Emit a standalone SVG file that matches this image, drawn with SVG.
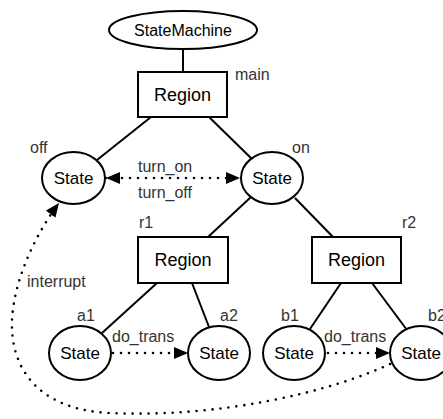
<svg xmlns="http://www.w3.org/2000/svg" width="443" height="419" viewBox="0 0 443 419">
<style>
.node{fill:#fff;stroke:#000;stroke-width:2}
.nt{font-family:"Liberation Sans",Arial,sans-serif;fill:#000;text-anchor:middle}
.lb{font-family:"Liberation Sans",Arial,sans-serif;font-size:16px;fill:#333}
.edge{stroke:#000;stroke-width:2;fill:none}
.dot{stroke:#000;stroke-width:2.6;fill:none;stroke-linecap:round;stroke-dasharray:0 8}
</style>
<defs>
<marker id="ah" viewBox="0 0 14 12" refX="14" refY="6" markerWidth="14" markerHeight="12" markerUnits="userSpaceOnUse" orient="auto-start-reverse">
<path d="M0,0 L14,6 L0,12 z" fill="#000"/>
</marker>
</defs>
<g id="connectors">
<line class="edge" x1="183" y1="49" x2="183" y2="72"/>
<line class="edge" x1="151" y1="117" x2="97" y2="160"/>
<line class="edge" x1="209" y1="117" x2="252" y2="159"/>
<line class="edge" x1="251" y1="197" x2="208" y2="237"/>
<line class="edge" x1="295" y1="198" x2="333" y2="237"/>
<line class="edge" x1="157" y1="283" x2="102" y2="333"/>
<line class="edge" x1="192" y1="283" x2="209" y2="327"/>
<line class="edge" x1="341" y1="283" x2="310" y2="329"/>
<line class="edge" x1="372" y1="283" x2="407" y2="330"/>
<path class="dot" d="M106,178 L240,178" marker-start="url(#ah)" marker-end="url(#ah)"/>
<path class="dot" d="M113,353 L188,353" marker-end="url(#ah)"/>
<path class="dot" d="M328,353 L390,353" marker-end="url(#ah)"/>
<path class="dot" d="M390,364 C330,392 220,418 110,413 C40,410 10,370 12,320 C14,280 35,235 59,203" marker-end="url(#ah)"/>
</g>
<g id="statemachine">
<ellipse class="node" cx="183" cy="30" rx="74" ry="19"/>
<text class="nt" x="183" y="36" font-size="16">StateMachine</text>
</g>
<g id="region-main">
<rect class="node" x="138" y="72" width="89" height="45"/>
<text class="nt" x="182.5" y="101" font-size="18">Region</text>
<text class="lb" x="235" y="80">main</text>
</g>
<g id="state-off">
<ellipse class="node" cx="73.5" cy="178" rx="31.5" ry="26"/>
<text class="nt" x="73.5" y="184" font-size="17">State</text>
<text class="lb" x="30" y="153">off</text>
</g>
<g id="state-on">
<ellipse class="node" cx="272" cy="178" rx="31" ry="26"/>
<text class="nt" x="272" y="184" font-size="17">State</text>
<text class="lb" x="292" y="153">on</text>
</g>
<g id="region-r1">
<rect class="node" x="138" y="237" width="90" height="46"/>
<text class="nt" x="183" y="266" font-size="18">Region</text>
<text class="lb" x="139" y="228">r1</text>
</g>
<g id="region-r2">
<rect class="node" x="312" y="237" width="89" height="46"/>
<text class="nt" x="356.5" y="266" font-size="18">Region</text>
<text class="lb" x="402" y="228">r2</text>
</g>
<g id="state-a1">
<ellipse class="node" cx="80" cy="353" rx="31" ry="27"/>
<text class="nt" x="80" y="359" font-size="17">State</text>
<text class="lb" x="77" y="321">a1</text>
</g>
<g id="state-a2">
<ellipse class="node" cx="219" cy="353" rx="31" ry="27"/>
<text class="nt" x="219" y="359" font-size="17">State</text>
<text class="lb" x="220" y="321">a2</text>
</g>
<g id="state-b1">
<ellipse class="node" cx="294" cy="353" rx="31" ry="27"/>
<text class="nt" x="294" y="359" font-size="17">State</text>
<text class="lb" x="281" y="321">b1</text>
</g>
<g id="state-b2">
<ellipse class="node" cx="421" cy="353" rx="31" ry="27"/>
<text class="nt" x="421" y="359" font-size="17">State</text>
<text class="lb" x="428" y="321">b2</text>
</g>
<g id="labels">
<text class="lb" x="138" y="172">turn_on</text>
<text class="lb" x="138" y="198">turn_off</text>
<text class="lb" x="112" y="342">do_trans</text>
<text class="lb" x="324" y="342">do_trans</text>
<text class="lb" x="27" y="287">interrupt</text>
</g>
</svg>
